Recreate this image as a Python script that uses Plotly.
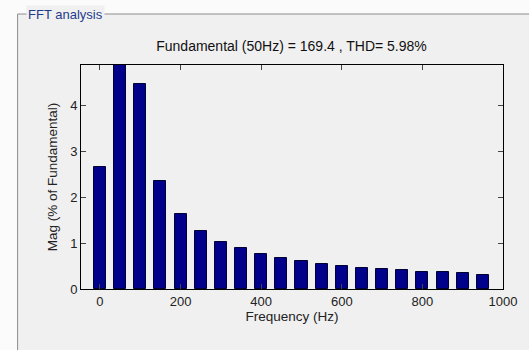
import plotly.graph_objects as go

# Data
freq_hz = [0, 50, 100, 150, 200, 250, 300, 350, 400, 450,
           500, 550, 600, 650, 700, 750, 800, 850, 900, 950]
mag_pct = [2.65, 100.0, 4.45, 2.34, 1.63, 1.265, 1.03, 0.885, 0.765, 0.67,
           0.60, 0.55, 0.50, 0.455, 0.435, 0.41, 0.38, 0.36, 0.34, 0.31]
x_ticks = [0, 200, 400, 600, 800, 1000]
y_ticks = [0, 1, 2, 3, 4]

W, H = 529, 350
L, R, T, B = 81, 22, 65, 61
PW, PH = W - L - R, H - T - B


def px(x):
    return (x - L) / PW


def py(y):
    return (H - B - y) / PH


FONT = "Liberation Sans, Arial, sans-serif"

fig = go.Figure()
fig.add_trace(go.Bar(
    x=freq_hz, y=mag_pct, width=30,
    marker=dict(color="#00008b", line=dict(color="#000033", width=1)),
    showlegend=False,
))

# group box panel
fig.add_shape(type="rect", xref="paper", yref="paper",
              x0=px(17), x1=px(540), y0=py(360), y1=py(14),
              fillcolor="#f0f0f0", line=dict(color="#8c8c8c", width=1),
              layer="below")
fig.add_annotation(text="FFT analysis", xref="paper", yref="paper",
                   x=px(25), y=py(14), xanchor="left", yanchor="middle",
                   showarrow=False, bgcolor="#f0f0f0",
                   font=dict(family=FONT, size=13, color="#1e3c8c"),
                   borderpad=1)

fig.update_layout(
    width=W, height=H,
    margin=dict(l=L, r=R, t=T, b=B),
    paper_bgcolor="#fbfbfb",
    plot_bgcolor="white",
    font=dict(family=FONT, size=13, color="#222222"),
    title=dict(text="Fundamental (50Hz) = 169.4 , THD= 5.98%",
               xref="container", x=291.5 / W, xanchor="center",
               yref="container", y=1 - 46 / H, yanchor="middle",
               font=dict(family=FONT, size=14, color="#111111")),
    bargap=0,
)
fig.update_xaxes(range=[-47, 1000], tickvals=x_ticks, ticks="inside", ticklen=5,
                 showline=True, linecolor="black", linewidth=1, mirror="ticks",
                 showgrid=False, zeroline=False,
                 title=dict(text="Frequency (Hz)", standoff=3,
                            font=dict(size=13.5)),
                 tickfont=dict(size=13))
fig.update_yaxes(range=[0, 4.87], tickvals=y_ticks, ticks="inside", ticklen=5,
                 showline=True, linecolor="black", linewidth=1, mirror="ticks",
                 showgrid=False, zeroline=False,
                 title=dict(text="Mag (% of Fundamental)", standoff=9,
                            font=dict(size=13.5)),
                 tickfont=dict(size=13))

fig.write_html("out.html")
